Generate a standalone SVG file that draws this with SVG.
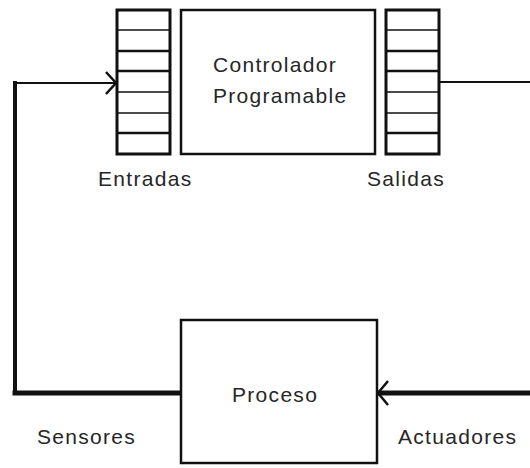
<svg xmlns="http://www.w3.org/2000/svg" width="530" height="468" viewBox="0 0 530 468">
  <style>
    .box { fill: #ffffff; stroke: #111111; stroke-width: 2.5; }
    .reg { fill: #ffffff; stroke: #111111; stroke-width: 3; }
    .cell { stroke: #111111; stroke-width: 1.5; }
    .cell-b { stroke: #111111; stroke-width: 2.5; }
    .lbl { font-family: "Liberation Sans", Arial, sans-serif; font-size: 21px; fill: #262626; letter-spacing: 1.3px; }
    .wire { fill: none; stroke: #111111; stroke-linecap: square; }
    .head { fill: none; stroke: #111111; stroke-width: 2.5; stroke-linejoin: miter; }
  </style>
  <defs>
    <!-- 7-slot I/O register, origin at top-left -->
    <g id="register">
      <rect class="reg" x="0" y="0" width="53" height="144"/>
      <line class="cell" x1="0" y1="20" x2="53" y2="20"/>
      <line class="cell-b" x1="0" y1="41" x2="53" y2="41"/>
      <line class="cell-b" x1="0" y1="61" x2="53" y2="61"/>
      <line class="cell" x1="0" y1="82" x2="53" y2="82"/>
      <line class="cell" x1="0" y1="103" x2="53" y2="103"/>
      <line class="cell-b" x1="0" y1="123" x2="53" y2="123"/>
    </g>
  </defs>

  <rect width="530" height="468" fill="#ffffff"/>

  <g id="connectors">
    <!-- sensor feedback loop into the inputs -->
    <line class="wire" x1="181" y1="393" x2="15" y2="393" stroke-width="5"/>
    <line class="wire" x1="15" y1="393" x2="15" y2="83" stroke-width="4"/>
    <line class="wire" x1="15" y1="83" x2="114" y2="83" stroke-width="2"/>
    <path class="head" d="M106,72 L116,83 L106,94"/>
    <!-- outputs to actuators -->
    <line class="wire" x1="440" y1="82" x2="531" y2="82" stroke-width="2"/>
    <line class="wire" x1="531" y1="393" x2="380" y2="393" stroke-width="5"/>
    <path class="head" d="M388,381 L378,393 L388,405" stroke-width="3"/>
  </g>

  <g id="entradas">
    <use href="#register" x="117" y="10"/>
    <text class="lbl" x="98" y="186">Entradas</text>
  </g>

  <g id="controlador">
    <rect class="box" x="181" y="10" width="194" height="144"/>
    <text class="lbl" x="213" y="72" letter-spacing="1">Controlador</text>
    <text class="lbl" x="213" y="103">Programable</text>
  </g>

  <g id="salidas">
    <use href="#register" x="386" y="10"/>
    <text class="lbl" x="367" y="186">Salidas</text>
  </g>

  <g id="proceso">
    <rect class="box" x="181" y="320" width="196" height="143"/>
    <text class="lbl" x="232" y="402">Proceso</text>
  </g>

  <g id="sensores">
    <text class="lbl" x="37" y="444">Sensores</text>
  </g>

  <g id="actuadores">
    <text class="lbl" x="398" y="444">Actuadores</text>
  </g>
</svg>
